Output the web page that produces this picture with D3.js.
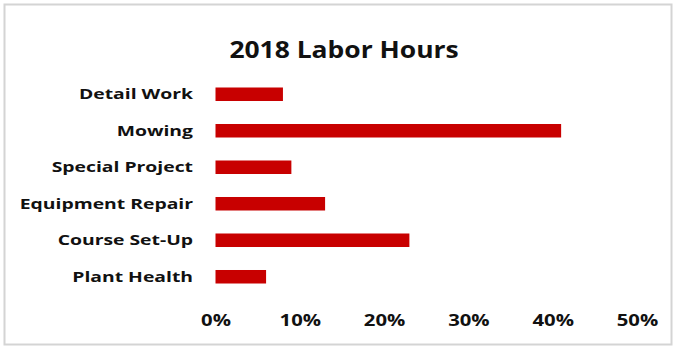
<!DOCTYPE html>
<html>
<head>
<meta charset="utf-8">
<script src="https://cdn.jsdelivr.net/npm/d3@7"></script>
<style>
  html, body { margin: 0; padding: 0; background: #fff; }
  svg { display: block; }
  text { font-family: "Open Sans", "DejaVu Sans", sans-serif; font-weight: 700; fill: #111; }
</style>
</head>
<body>
<svg id="chart" width="676" height="348"></svg>
<script>
// Share of labor hours by task, 2018
const categories = ["Detail Work", "Mowing", "Special Project", "Equipment Repair", "Course Set-Up", "Plant Health"];
const shares = [0.08, 0.41, 0.09, 0.13, 0.23, 0.06];
const tickValues = [0, 0.1, 0.2, 0.3, 0.4, 0.5];
const title = "2018 Labor Hours";

const W = 676, H = 348;
const svg = d3.select("#chart");

// outer frame
svg.append("rect")
  .attr("x", 4.5).attr("y", 4.5)
  .attr("width", W - 9).attr("height", H - 8)
  .attr("fill", "#fff")
  .attr("stroke", "#d4d4d4").attr("stroke-width", 2);

const x = d3.scaleLinear().domain([0, 0.5]).range([215.5, 637]);
const y = d3.scaleBand().domain(categories).range([76, 295])
  .paddingInner(0.63).paddingOuter(0.315);

// bars
svg.append("g").selectAll("rect")
  .data(categories)
  .join("rect")
  .attr("x", x(0))
  .attr("y", d => y(d))
  .attr("width", (d, i) => x(shares[i]) - x(0))
  .attr("height", y.bandwidth())
  .attr("fill", "#c80000");

// category axis (wide-set bold labels)
const yAxis = svg.append("g")
  .attr("transform", "translate(193,0)")
  .call(d3.axisLeft(y).tickSize(0).tickPadding(0));
yAxis.select(".domain").remove();
yAxis.selectAll("text")
  .attr("font-size", 15)
  .style("font-family", "'Open Sans', sans-serif")
  .style("font-weight", 700)
  .attr("fill", "#111")
  .attr("x", 0)
  .attr("transform", "scale(1.29,1)");

// value axis
const xAxis = svg.append("g")
  .attr("transform", "translate(0,315)")
  .call(d3.axisBottom(x).tickValues(tickValues).tickFormat(d3.format(".0%")).tickSize(0).tickPadding(0));
xAxis.select(".domain").remove();
xAxis.selectAll("text")
  .attr("font-size", 16)
  .style("font-family", "'Open Sans', sans-serif")
  .style("font-weight", 700)
  .attr("fill", "#111")
  .attr("transform", "scale(1.27,1)");

// title
svg.append("text")
  .attr("transform", "translate(344,58) scale(1.15,1)")
  .attr("text-anchor", "middle")
  .attr("font-size", 23)
  .text(title);
</script>
</body>
</html>
